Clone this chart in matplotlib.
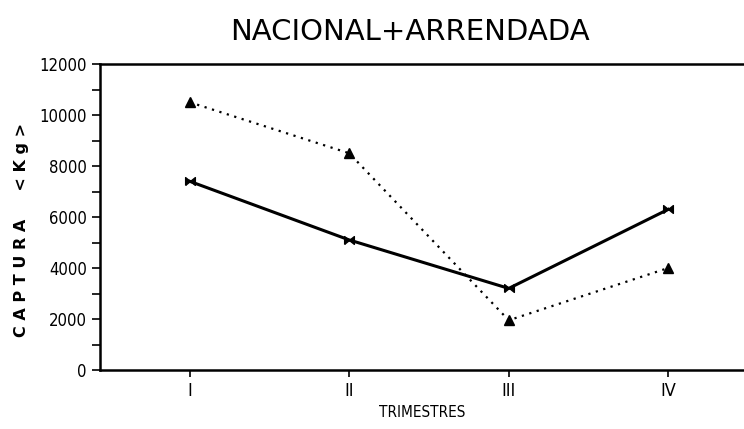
import matplotlib
matplotlib.use("Agg")
import matplotlib.pyplot as plt
from matplotlib.ticker import MultipleLocator

trimestres = ["I", "II", "III", "IV"]
nacional = [7400, 5100, 3200, 6300]
arrendada = [10500, 8500, 1950, 4000]
yticks = [0, 2000, 4000, 6000, 8000, 10000, 12000]

fig = plt.figure(figsize=(7.44, 4.29), dpi=100)
ax = fig.add_axes([100/744, 59/429, 644/744, 306/429])

x = list(range(1, len(trimestres) + 1))
bowtie = [(-1, -0.8), (1, 0.8), (1, -0.8), (-1, 0.8), (-1, -0.8)]
ax.plot(x, nacional, color="black", lw=2.2, marker=bowtie, ms=7, mfc="black", mec="black")
ax.plot(x, arrendada, color="black", lw=1.6, ls=(0, (1, 2.5)), marker="^", ms=7, mfc="black", mec="black")

ax.set_xlim(0.4375, 4.475)
ax.set_ylim(0, 12000)
ax.set_xticks(x)
ax.set_xticklabels(trimestres, fontsize=13, fontstretch="condensed", family="DejaVu Sans")
ax.set_yticks(yticks)
ax.set_yticklabels([str(v) for v in yticks], fontsize=12, fontstretch="condensed", family="DejaVu Sans")
ax.yaxis.set_minor_locator(MultipleLocator(1000))
ax.tick_params(axis="y", which="major", length=6, width=1.2, direction="out")
ax.tick_params(axis="y", which="minor", length=6, width=1.2, direction="out")
ax.tick_params(axis="x", which="major", length=5, width=1.2, direction="out")

ax.spines["right"].set_visible(False)
for s in ["left", "top", "bottom"]:
    ax.spines[s].set_linewidth(1.8)

ax.set_xlabel("TRIMESTRES", fontsize=11, fontstretch="condensed", labelpad=4)
fig.text(22/744, 1 - 230/429, "C A P T U R A     < K g >", rotation=90, fontsize=11.5,
         fontweight="bold", ha="center", va="center")
fig.text(410/744, 1 - 32/429, "NACIONAL+ARRENDADA", fontsize=21, color="black",
         ha="center", va="center")

fig.savefig("out.png", dpi=100)
